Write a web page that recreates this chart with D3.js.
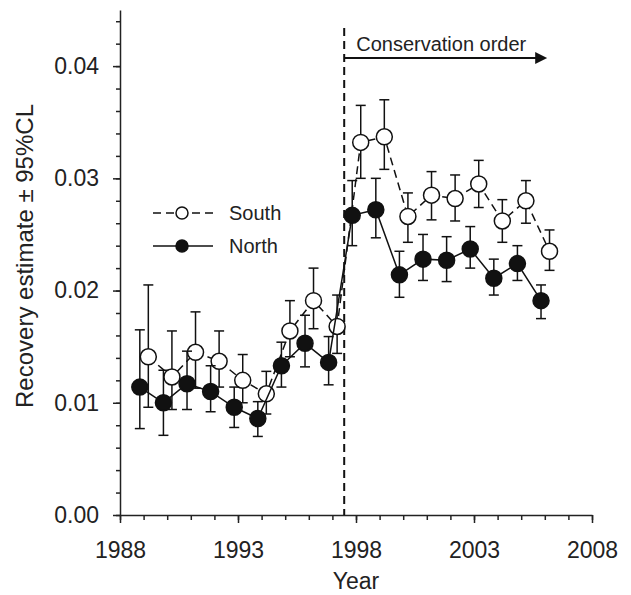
<!DOCTYPE html>
<html>
<head>
<meta charset="utf-8">
<script src="https://cdn.jsdelivr.net/npm/d3@7/dist/d3.min.js"></script>
<style>
  body { margin:0; background:#fff; }
  svg { font-family: "Liberation Sans", Arial, Helvetica, sans-serif; }
</style>
</head>
<body>
<svg id="chart" width="631" height="595"></svg>
<script>
'use strict'

// ------------------------------------------------------------ DATA -------
let years = [1989, 1990, 1991, 1992, 1993, 1994, 1995, 1996, 1997,
             1998, 1999, 2000, 2001, 2002, 2003, 2004, 2005, 2006]

let north   = [0.0114, 0.0100, 0.0117, 0.0110, 0.0096, 0.0086, 0.0133, 0.0153, 0.0136,
               0.0267, 0.0272, 0.0214, 0.0228, 0.0227, 0.0237, 0.0211, 0.0224, 0.0191]
let northLo = [0.0077, 0.0071, 0.0094, 0.0092, 0.0078, 0.0070, 0.0114, 0.0132, 0.0116,
               0.0240, 0.0247, 0.0194, 0.0209, 0.0208, 0.0220, 0.0196, 0.0209, 0.0175]
let northHi = [0.0165, 0.0129, 0.0146, 0.0133, 0.0114, 0.0101, 0.0154, 0.0178, 0.0159,
               0.0298, 0.0300, 0.0235, 0.0250, 0.0248, 0.0257, 0.0228, 0.0240, 0.0205]

let south   = [0.0141, 0.0123, 0.0145, 0.0137, 0.0120, 0.0108, 0.0164, 0.0191, 0.0168,
               0.0332, 0.0337, 0.0266, 0.0285, 0.0282, 0.0295, 0.0262, 0.0280, 0.0235]
let southLo = [0.0096, 0.0094, 0.0113, 0.0114, 0.0100, 0.0090, 0.0141, 0.0166, 0.0144,
               0.0300, 0.0308, 0.0243, 0.0263, 0.0262, 0.0274, 0.0243, 0.0260, 0.0218]
let southHi = [0.0205, 0.0164, 0.0181, 0.0164, 0.0143, 0.0128, 0.0191, 0.0220, 0.0196,
               0.0365, 0.0370, 0.0287, 0.0306, 0.0303, 0.0316, 0.0281, 0.0298, 0.0254]

let xMajorTicks = [1988, 1993, 1998, 2003, 2008]
let xMinorTicks = d3.range(1988, 2009)
let yMajorTicks = [0, 0.01, 0.02, 0.03, 0.04]
let yMinorTicks = d3.range(0, 0.0451, 0.002)

let orderYear = 1997.5
let orderEnd = 2006.1
let orderLabel = 'Conservation order'

// --------------------------------------------------------------------
// ------------------------------------------ POSITIONNING DATA -------

let svg = d3.select('#chart')

let plotLeft = 120, plotRight = 592, plotTop = 10, plotBottom = 515
let northShift = -0.16   // points are nudged apart along x
let southShift = 0.2

let xScale = d3.scaleLinear().domain([1988, 2008]).range([plotLeft, plotRight])
let yScale = d3.scaleLinear().domain([0, 0.045]).range([plotBottom, plotTop])

// --------------------------------------------------------------------
// ------------------------------------------------- AXIS/GRIDS -------

let axisFont = 23

svg.append('g')
  .attr('transform', 'translate(0,' + plotBottom + ')')
  .call(d3.axisBottom(xScale).tickValues(xMinorTicks).tickFormat('').tickSize(5).tickSizeOuter(0))
  .call(g => g.select('.domain').remove())

svg.append('g')
  .attr('class', 'x_axis')
  .attr('transform', 'translate(0,' + plotBottom + ')')
  .call(d3.axisBottom(xScale).tickValues(xMajorTicks).tickFormat(d3.format('d'))
    .tickSize(8).tickSizeOuter(0).tickPadding(19))

svg.append('g')
  .attr('transform', 'translate(' + plotLeft + ',0)')
  .call(d3.axisLeft(yScale).tickValues(yMinorTicks).tickFormat('').tickSize(4).tickSizeOuter(0))
  .call(g => g.select('.domain').remove())

svg.append('g')
  .attr('class', 'y_axis')
  .attr('transform', 'translate(' + plotLeft + ',0)')
  .call(d3.axisLeft(yScale).tickValues(yMajorTicks).tickFormat(d3.format('.2f'))
    .tickSize(7).tickSizeOuter(0).tickPadding(14))

svg.selectAll('.tick line, .domain')
  .attr('stroke', '#222').attr('stroke-width', 1.5)
svg.selectAll('.tick text')
  .attr('fill', '#222').style('font-size', axisFont + 'px').attr('font-family', null)

svg.append('text')
  .attr('x', (plotLeft + plotRight) / 2).attr('y', 589)
  .attr('text-anchor', 'middle')
  .attr('fill', '#222')
  .style('font-size', axisFont + 'px')
  .text('Year')

svg.append('text')
  .attr('transform', 'translate(33,256) rotate(-90)')
  .attr('text-anchor', 'middle')
  .attr('fill', '#222')
  .style('font-size', '24px')
  .text('Recovery estimate ± 95%CL')

// --------------------------------------------------------------------
// ------------------------------------------------- ANNOTATION -------

svg.append('line')
  .attr('x1', xScale(orderYear)).attr('x2', xScale(orderYear))
  .attr('y1', 28).attr('y2', plotBottom)
  .attr('stroke', '#111').attr('stroke-width', 2)
  .attr('stroke-dasharray', '8,5')

let arrowY = 58
svg.append('line')
  .attr('x1', xScale(orderYear)).attr('x2', xScale(orderEnd) - 10)
  .attr('y1', arrowY).attr('y2', arrowY)
  .attr('stroke', '#111').attr('stroke-width', 2)

svg.append('path')
  .attr('d', d3.line()([
    [xScale(orderEnd) - 12, arrowY - 6],
    [xScale(orderEnd), arrowY],
    [xScale(orderEnd) - 12, arrowY + 6]]) + 'Z')
  .attr('fill', '#111')

svg.append('text')
  .attr('x', xScale(orderYear) + 12).attr('y', 51)
  .attr('fill', '#222')
  .style('font-size', '20px')
  .text(orderLabel)

// --------------------------------------------------------------------
// ----------------------------------------------- DISPLAY DATA -------

function drawSeries(values, lo, hi, shift, filled, dash) {
  let pts = years.map((y, i) => ({x: xScale(y + shift), v: values[i], lo: lo[i], hi: hi[i]}))
  let g = svg.append('g')

  g.append('path')
    .attr('d', d3.line().x(d => d.x).y(d => yScale(d.v))(pts))
    .attr('fill', 'none')
    .attr('stroke', '#111').attr('stroke-width', 1.5)
    .attr('stroke-dasharray', dash)

  let bars = g.selectAll('g.err').data(pts).enter().append('g').attr('class', 'err')
  bars.append('line')
    .attr('x1', d => d.x).attr('x2', d => d.x)
    .attr('y1', d => yScale(d.lo)).attr('y2', d => yScale(d.hi))
  bars.append('line')
    .attr('x1', d => d.x - 5).attr('x2', d => d.x + 5)
    .attr('y1', d => yScale(d.hi)).attr('y2', d => yScale(d.hi))
  bars.append('line')
    .attr('x1', d => d.x - 5).attr('x2', d => d.x + 5)
    .attr('y1', d => yScale(d.lo)).attr('y2', d => yScale(d.lo))
  bars.selectAll('line').attr('stroke', '#111').attr('stroke-width', 1.5)

  g.selectAll('circle').data(pts).enter().append('circle')
    .attr('cx', d => d.x).attr('cy', d => yScale(d.v))
    .attr('r', 8)
    .attr('fill', filled ? '#111' : '#fff')
    .attr('stroke', '#111').attr('stroke-width', 1.5)
}

drawSeries(south, southLo, southHi, southShift, false, '8,5')
drawSeries(north, northLo, northHi, northShift, true, null)

// --------------------------------------------------------------------
// ----------------------------------------------------- LEGEND -------

let legend = [
  {name: 'South', y: 213, filled: false, dash: '8,5'},
  {name: 'North', y: 246, filled: true, dash: null}
]

let lg = svg.selectAll('g.legend').data(legend).enter().append('g').attr('class', 'legend')
lg.append('line')
  .attr('x1', 153).attr('x2', 213)
  .attr('y1', d => d.y).attr('y2', d => d.y)
  .attr('stroke', '#111').attr('stroke-width', 1.5)
  .attr('stroke-dasharray', d => d.dash)
lg.append('circle')
  .attr('cx', 182).attr('cy', d => d.y).attr('r', 6)
  .attr('fill', d => d.filled ? '#111' : '#fff')
  .attr('stroke', '#111').attr('stroke-width', 1.5)
lg.append('text')
  .attr('x', 229).attr('y', d => d.y)
  .attr('dy', '0.35em')
  .attr('fill', '#222')
  .style('font-size', '20px')
  .text(d => d.name)
</script>
</body>
</html>
